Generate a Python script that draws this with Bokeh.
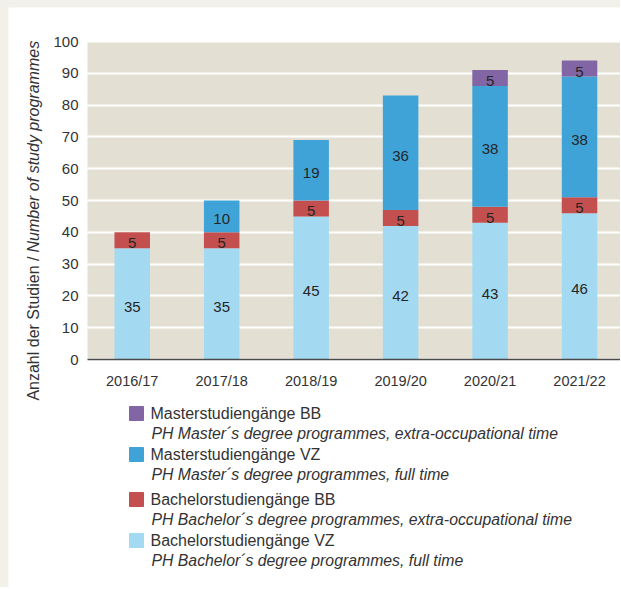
from bokeh.plotting import figure
from bokeh.models import (ColumnDataSource, FixedTicker, Range1d,
                          BoxAnnotation)
from bokeh.layouts import column
from bokeh.embed import file_html
from bokeh.resources import INLINE
from bokeh.core.properties import value
import math

# ---- data ----
years = ["2016/17", "2017/18", "2018/19", "2019/20", "2020/21", "2021/22"]
bachelor_vz = [35, 35, 45, 42, 43, 46]
bachelor_bb = [5, 5, 5, 5, 5, 5]
master_vz = [0, 10, 19, 36, 38, 38]
master_bb = [0, 0, 0, 0, 5, 5]
y_ticks = [0, 10, 20, 30, 40, 50, 60, 70, 80, 90, 100]

series_keys = ["bachelor_vz", "bachelor_bb", "master_vz", "master_bb"]
series_colors = ["#a4d9f2", "#c3504f", "#3fa3d7", "#8165a4"]
legend_titles = ["Bachelorstudiengänge VZ", "Bachelorstudiengänge BB",
                 "Masterstudiengänge VZ", "Masterstudiengänge BB"]
legend_subtitles = ["PH Bachelor´s degree programmes, full time",
                    "PH Bachelor´s degree programmes, extra-occupational time",
                    "PH Master´s degree programmes,  full time",
                    "PH Master´s degree programmes, extra-occupational time"]
y_title_de = "Anzahl der Studien /"
y_title_en = "Number of study programmes"

FONT = "Liberation Sans"
TXT = "#333333"

data = dict(x=list(range(len(years))), bachelor_vz=bachelor_vz,
            bachelor_bb=bachelor_bb, master_vz=master_vz, master_bb=master_bb)
source = ColumnDataSource(data)

# ---- geometry (page pixels) ----
W, H = 612, 580            # canvas: page x 8..620, y 7..587
PX_L, PX_T = 8, 7
CH_L, CH_R = 87, 620       # chart area left/right
CH_T, CH_B = 41, 359       # chart area top (100) / bottom (0)
X0, X1 = -0.5, 5.458       # data x at chart left/right
Y0, Y1 = 0, 100
ppx = (CH_R - CH_L) / (X1 - X0)
ppy = (CH_B - CH_T) / (Y1 - Y0)
xr = Range1d(X0 - (CH_L - PX_L) / ppx, X1 + (PX_L + W - CH_R) / ppx)
yr = Range1d(Y0 - (PX_T + H - CH_B) / ppy, Y1 + (CH_T - PX_T) / ppy)

p = figure(width=W, height=H, x_range=xr, y_range=yr,
           output_backend="svg", toolbar_location=None,
           min_border=0, min_border_left=0, min_border_right=0,
           min_border_top=0, min_border_bottom=0)
p.extra_x_ranges = {"px": Range1d(PX_L, PX_L + W)}
p.extra_y_ranges = {"px": Range1d(PX_T + H, PX_T)}
p.background_fill_color = "white"
p.border_fill_color = "white"
p.outline_line_color = None

# chart-area background
p.add_layout(BoxAnnotation(left=X0, right=X1, bottom=Y0, top=Y1,
                           fill_color="#e3e0d3", fill_alpha=1.0,
                           line_color=None, level="image"))

p.vbar_stack(series_keys, x="x", width=0.397, color=series_colors,
             source=source, line_color=None)

# in-bar value labels
lx, ly, lt = [], [], []
for i in range(len(years)):
    base = 0
    for key in series_keys:
        v = data[key][i]
        if v > 0:
            lx.append(i)
            ly.append(base + v / 2)
            lt.append(str(v))
        base += v
p.text(x=lx, y=ly, text=lt, text_align="center", text_baseline="middle",
       text_font=value(FONT), text_font_size="15px", text_color="#262626",
       y_offset=3)

# axes, fixed at chart-area edges
p.xaxis.fixed_location = Y0
p.xaxis.bounds = (X0, X1)
p.xaxis.ticker = FixedTicker(ticks=list(range(len(years))))
p.xaxis.major_label_overrides = {i: y for i, y in enumerate(years)}
p.xaxis.axis_line_color = "#4a4a4a"
p.xaxis.axis_line_width = 1.5
p.xaxis.major_tick_line_color = None
p.xaxis.major_tick_out = 0
p.xaxis.minor_tick_line_color = None
p.xaxis.minor_tick_out = 0
p.xaxis.major_label_standoff = 13
p.xaxis.major_label_text_font = FONT
p.xaxis.major_label_text_font_size = "14.5px"
p.xaxis.major_label_text_color = TXT

p.yaxis.fixed_location = X0
p.yaxis.bounds = (Y0, Y1)
p.yaxis.ticker = FixedTicker(ticks=y_ticks)
p.yaxis.axis_line_color = None
p.yaxis.major_tick_line_color = None
p.yaxis.major_tick_out = 0
p.yaxis.minor_tick_line_color = None
p.yaxis.minor_tick_out = 0
p.yaxis.major_label_standoff = 9
p.yaxis.major_label_text_font = FONT
p.yaxis.major_label_text_font_size = "15px"
p.yaxis.major_label_text_color = TXT

p.xgrid.grid_line_color = None
p.ygrid.ticker = FixedTicker(ticks=y_ticks)
p.ygrid.grid_line_color = "white"
p.ygrid.grid_line_width = 2

# y-axis title: regular part + italic part, in page-pixel coordinates
p.text(x=[33], y=[256], text=[y_title_de], angle=math.pi / 2,
       x_range_name="px", y_range_name="px",
       text_align="right", text_baseline="middle", text_font=value(FONT),
       text_font_size="16px", text_color=TXT)
p.text(x=[33], y=[252], text=[y_title_en], angle=math.pi / 2,
       x_range_name="px", y_range_name="px",
       text_align="left", text_baseline="middle", text_font=value(FONT),
       text_font_style="italic", text_font_size="16px", text_color=TXT)

# legend (page-pixel coordinates)
order = list(reversed(range(len(series_keys))))
row_y = [413 + 41 * k + (4 if k >= 2 else 0) for k in range(len(order))]
p.rect(x=[136] * len(order), y=row_y, width=14, height=14,
       color=[series_colors[j] for j in order],
       x_range_name="px", y_range_name="px")
p.text(x=[150] * len(order), y=row_y, text=[legend_titles[j] for j in order],
       x_range_name="px", y_range_name="px",
       text_align="left", text_baseline="middle", text_font=value(FONT),
       text_font_size="16px", text_color=TXT)
p.text(x=[151] * len(order), y=[y + 20 for y in row_y],
       text=[legend_subtitles[j] for j in order],
       x_range_name="px", y_range_name="px",
       text_align="left", text_baseline="middle", text_font=value(FONT),
       text_font_style="italic", text_font_size="15.8px", text_color=TXT)

layout = column(p, styles={"background-color": "#f1f0e9",
                           "padding": "7px 0px 0px 8px"})
html = file_html(layout, INLINE)
html = html.replace("<body>",
                    '<body style="background-color:#f1f0e9;margin:0;">', 1)
open("out.html", "w").write(html)
